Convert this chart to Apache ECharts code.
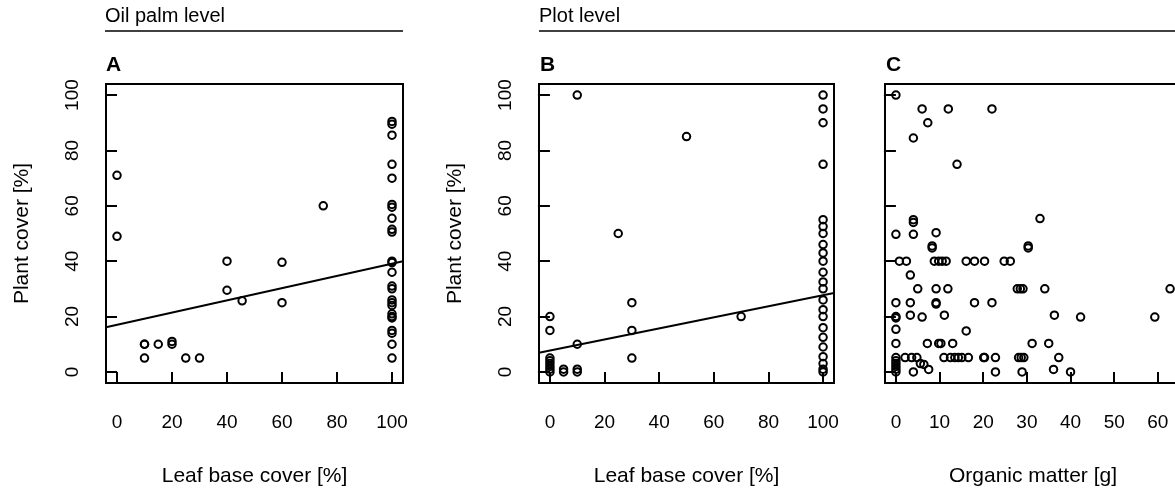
<!DOCTYPE html>
<html><head><meta charset="utf-8">
<script src="https://cdn.jsdelivr.net/npm/echarts@6/dist/echarts.min.js"></script>
<style>html,body{margin:0;padding:0;background:#fff}#c{width:1175px;height:490px}</style>
</head><body><div id="c"></div>
<script>
// ---- data ----
const xTicksLeaf = [0, 20, 40, 60, 80, 100];
const xTicksOM = [0, 10, 20, 30, 40, 50, 60];
const yTicks = [0, 20, 40, 60, 80, 100];

// Panel A: oil palm level, leaf base cover vs plant cover
const aX = [0, 0, 10, 10, 10, 15, 20, 20, 25, 30, 40, 40, 45.5, 60, 60, 75,
  100, 100, 100, 100, 100, 100, 100, 100, 100, 100, 100, 100, 100, 100, 100, 100, 100, 100, 100, 100, 100, 100, 100, 100, 100];
const aY = [71, 49, 10, 10, 5, 10, 11, 10, 5, 5, 40, 29.5, 25.7, 39.6, 25, 60,
  90.5, 89.5, 85.5, 75, 70, 60.5, 59.5, 55.5, 51.5, 50.5, 40, 39.5, 36, 31, 30, 26, 25, 24, 21, 20, 19.5, 15, 14, 10, 5];

// Panel B: plot level, leaf base cover vs plant cover
const bX = [0, 0, 0, 0, 0, 0, 0, 0, 5, 5, 10, 10, 10, 10, 25, 30, 30, 30, 50, 70,
  100, 100, 100, 100, 100, 100, 100, 100, 100, 100, 100, 100, 100, 100, 100, 100, 100, 100, 100, 100, 100, 100, 100];
const bY = [20, 15, 5, 4, 3, 2, 1, 0, 1, 0, 100, 10, 1, 0, 50, 25, 15, 5, 85, 20,
  100, 95, 90, 75, 55, 52.5, 50, 46, 43, 40, 36, 32.5, 30, 26, 22.5, 20, 16, 12.5, 9, 5.5, 3, 1, 0];

// Panel C: plot level, organic matter vs plant cover
const cX = [0, 6, 12, 22, 7.3, 4, 14, 33, 4, 4, 0, 4, 9.2, 8.3, 8.3, 30.3, 30.3,
  0.8, 2.4, 8.8, 9.8, 10.6, 11.5, 16.1, 18, 20.3, 24.8, 26.2,
  3.3,
  5, 9.2, 11.9, 27.8, 28.5, 29.1, 34.1, 62.8,
  0, 3.3, 9.2, 9.2, 18, 22,
  0, 0, 3.3, 6, 11.1, 36.3, 42.3, 59.3,
  0, 16.1,
  0, 7.2, 9.8, 10.3, 13, 31.2, 35,
  0, 2.1, 3.6, 4.8, 11, 12.5, 13.5, 14.3, 15.1, 16.6, 20.1, 20.3, 22.8, 28.1, 28.7, 29.3, 37.3,
  0, 0, 0, 0, 0, 5.6, 6.4, 4, 7.5, 22.8, 28.9, 36.1, 40];
const cY = [100, 95, 95, 95, 90, 84.5, 75, 55.4, 55, 54, 49.7, 49.7, 50.3, 45.5, 44.8, 45.5, 44.8,
  40, 40, 40, 40, 40, 40, 40, 40, 40, 40, 40,
  35,
  30, 30, 30, 30, 30, 30, 30, 30,
  25, 25, 25, 24.5, 25, 25,
  20, 19.5, 20.5, 19.8, 20.5, 20.5, 19.8, 19.8,
  15.4, 14.8,
  10.3, 10.3, 10.3, 10.3, 10.3, 10.3, 10.3,
  5.2, 5.2, 5.2, 5.2, 5.2, 5.2, 5.2, 5.2, 5.2, 5.2, 5.2, 5.2, 5.2, 5.2, 5.2, 5.2, 5.2,
  0, 1, 2, 3, 4, 3, 2.7, 0, 0.9, 0, 0, 0.9, 0];

// fitted regression lines: [intercept, slope]
const fitA = [17.0, 0.221];
const fitB = [7.7, 0.2];

// ---- chart ----
const FONT = "'Liberation Sans', Arial, sans-serif";
const FS = 19;
const FN = 21;
const zip = (xs, ys) => xs.map((x, i) => [x, ys[i]]);
const fitLine = (f, lo, hi) => [[lo, f[0] + f[1] * lo], [hi, f[0] + f[1] * hi]];

const grids = [
  { left: 106, width: 297, top: 84, height: 299 },
  { left: 539, width: 295, top: 84, height: 299 },
  { left: 885, width: 296, top: 84, height: 299 }
].map(g => Object.assign(g, { show: true, borderColor: '#000', borderWidth: 2, backgroundColor: 'transparent', containLabel: false, outerBoundsMode: 'none' }));

function xAxis(i, min, max, ticks, name) {
  return {
    gridIndex: i, type: 'value', min, max,
    axisLine: { show: false },
    splitLine: { show: false },
    axisTick: { show: true, length: 12, customValues: ticks, lineStyle: { color: '#000', width: 2 } },
    axisLabel: { customValues: ticks, margin: 30, color: '#000', fontSize: FS, fontFamily: FONT },
    name, nameLocation: 'middle', nameGap: 83,
    nameTextStyle: { color: '#000', fontSize: FN, fontFamily: FONT }
  };
}
function yAxis(i, showLabels) {
  return {
    gridIndex: i, type: 'value', min: -4, max: 104,
    axisLine: { show: false },
    splitLine: { show: false },
    axisTick: { show: true, length: 12, customValues: yTicks, lineStyle: { color: '#000', width: 2 } },
    axisLabel: { show: showLabels, customValues: yTicks, rotate: 90, margin: 24, color: '#000', fontSize: FS, fontFamily: FONT },
    name: showLabels ? 'Plant cover [%]' : '', nameLocation: 'middle', nameGap: 73,
    nameTextStyle: { color: '#000', fontSize: FN, fontFamily: FONT }
  };
}

const pt = {
  type: 'scatter', symbol: 'circle', symbolSize: 7.5,
  itemStyle: { color: 'rgba(0,0,0,0)', borderColor: '#000', borderWidth: 2, opacity: 1 },
  emphasis: { disabled: true }, silent: true
};
const ln = {
  type: 'line', showSymbol: false, symbol: 'none', silent: true,
  lineStyle: { color: '#000', width: 2 }
};

const option = {
  animation: false,
  backgroundColor: '#fff',
  grid: grids,
  xAxis: [
    xAxis(0, -4, 104, xTicksLeaf, 'Leaf base cover [%]'),
    xAxis(1, -4, 104, xTicksLeaf, 'Leaf base cover [%]'),
    xAxis(2, -2.5, 65.3, xTicksOM, 'Organic matter [g]')
  ],
  yAxis: [yAxis(0, true), yAxis(1, true), yAxis(2, false)],
  series: [
    Object.assign({}, pt, { xAxisIndex: 0, yAxisIndex: 0, data: zip(aX, aY) }),
    Object.assign({}, ln, { xAxisIndex: 0, yAxisIndex: 0, data: fitLine(fitA, -4, 104) }),
    Object.assign({}, pt, { xAxisIndex: 1, yAxisIndex: 1, data: zip(bX, bY) }),
    Object.assign({}, ln, { xAxisIndex: 1, yAxisIndex: 1, data: fitLine(fitB, -4, 104) }),
    Object.assign({}, pt, { xAxisIndex: 2, yAxisIndex: 2, data: zip(cX, cY) })
  ],
  graphic: [
    { type: 'text', left: 105, top: 6, style: { text: 'Oil palm level', fill: '#000', font: '20px ' + FONT } },
    { type: 'line', shape: { x1: 105, y1: 31, x2: 403, y2: 31 }, style: { stroke: '#000', lineWidth: 1.5 } },
    { type: 'text', left: 539, top: 6, style: { text: 'Plot level', fill: '#000', font: '20px ' + FONT } },
    { type: 'line', shape: { x1: 539, y1: 31, x2: 1175, y2: 31 }, style: { stroke: '#000', lineWidth: 1.5 } },
    { type: 'text', left: 106, top: 55, style: { text: 'A', fill: '#000', font: 'bold 21px ' + FONT } },
    { type: 'text', left: 540, top: 55, style: { text: 'B', fill: '#000', font: 'bold 21px ' + FONT } },
    { type: 'text', left: 886, top: 55, style: { text: 'C', fill: '#000', font: 'bold 21px ' + FONT } }
  ]
};
const chart = echarts.init(document.getElementById('c'), null, { renderer: 'canvas' });
chart.setOption(option);
</script>
</body></html>
